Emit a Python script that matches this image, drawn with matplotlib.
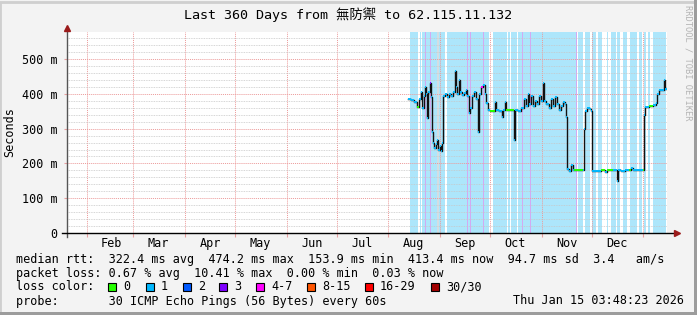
import numpy as np
import matplotlib.pyplot as plt
import matplotlib.dates as mdates
from matplotlib.ticker import MultipleLocator, FuncFormatter
from datetime import datetime, timedelta

# time axis: 360 days ending Thu Jan 15 03:48:23 2026
start = datetime(2025, 1, 20, 3, 48, 23)
span_days = 360

# median rtt (days since start, ms, loss colour index)
days = [204.6, 206.4, 208.2, 210.0, 211.2, 212.4, 213.0, 214.2, 214.8, 215.4,
        216.0, 216.6, 217.8, 218.4, 219.0, 219.6, 220.2, 221.4, 222.0, 222.6,
        223.8, 224.4, 225.0, 225.6, 226.8, 228.0, 229.2, 230.4, 231.6, 232.8,
        233.4, 234.0, 235.2, 235.8, 237.0, 238.2, 239.4, 240.0, 241.2, 241.8,
        243.0, 244.2, 245.4, 246.6, 247.2, 248.4, 249.6, 250.8, 251.4, 252.6,
        253.8, 255.6, 256.8, 257.4, 259.2, 261.0, 261.6, 262.6, 263.4, 265.8,
        268.2, 268.8, 270.6, 272.4, 274.2, 275.4, 276.6, 277.2, 278.4, 279.6,
        280.8, 282.0, 283.2, 284.4, 285.6, 286.2, 287.4, 289.2, 290.4, 291.6,
        292.8, 294.0, 295.2, 296.4, 297.6, 298.8, 299.4, 300.0, 301.2, 302.4,
        303.6, 304.2, 307.2, 309.6, 310.2, 310.8, 312.0, 313.8, 314.4, 315.0,
        317.4, 320.4, 322.8, 324.0, 327.6, 328.8, 330.0, 330.6, 332.4, 334.8,
        337.2, 338.4, 339.6, 342.0, 344.4, 345.6, 346.2, 346.8, 349.2, 351.6,
        353.4, 354.0, 355.2, 356.4, 357.6, 358.2, 358.8, 359.4]
median_ms = [385, 383, 378, 362, 385, 405, 360, 395, 420, 400,
             330, 405, 431, 390, 290, 260, 245, 255, 268, 240,
             250, 235, 260, 395, 400, 392, 400, 395, 405, 465,
             420, 400, 440, 405, 398, 402, 410, 395, 345, 360,
             395, 405, 385, 290, 400, 420, 425, 400, 375, 355,
             352, 352, 378, 355, 352, 335, 355, 378, 355, 355,
             268, 355, 352, 360, 385, 365, 400, 370, 395, 365,
             380, 370, 395, 380, 430, 380, 370, 360, 385, 365,
             390, 370, 355, 365, 378, 370, 333, 185, 178, 195,
             180, 182, 180, 182, 300, 350, 360, 358, 350, 178,
             178, 180, 175, 180, 182, 180, 150, 180, 178, 180,
             180, 188, 182, 180, 182, 180, 340, 362, 365, 368,
             375, 400, 410, 412, 412, 440, 415, 413]
loss_idx = [1, 1, 1, 0, 1, 1, 1, 1, 1, 1,
            1, 1, 3, 1, 1, 1, 1, 1, 1, 1,
            1, 1, 1, 1, 1, 1, 1, 1, 1, 1,
            1, 1, 1, 1, 1, 1, 1, 1, 1, 1,
            1, 1, 1, 1, 1, 4, 1, 1, 1, 1,
            0, 0, 1, 1, 1, 1, 1, 1, 0, 0,
            1, 1, 1, 1, 1, 1, 1, 1, 1, 1,
            1, 1, 1, 1, 1, 1, 1, 1, 1, 1,
            1, 1, 1, 1, 1, 1, 1, 1, 1, 1,
            1, 0, 0, 1, 1, 1, 1, 1, 1, 1,
            1, 0, 1, 0, 1, 1, 1, 1, 1, 1,
            0, 1, 1, 1, 1, 0, 1, 1, 0, 1,
            1, 1, 1, 1, 1, 1, 1, 1]

loss_labels = ['0', '1', '2', '3', '4-7', '8-15', '16-29', '30/30']
loss_colors = ['#26ff00', '#00b8ff', '#0059ff', '#7e00ff', '#ff00ff',
               '#ff5500', '#ff0000', '#a10000']

# background bands (days since start)
data_span = (205.8, 359.4)
white_gaps = [(210.8, 211.6), (212.4, 213.0), (226.8, 227.8), (253.4, 255.8),
              (263.8, 264.4), (265.8, 266.4), (269.8, 270.4), (305.4, 306.6),
              (307.5, 308.1), (309.6, 310.5), (313.8, 315.0), (317.4, 318.6),
              (321.0, 324.0), (324.6, 326.4), (329.1, 330.0), (331.8, 333.6),
              (336.0, 337.8), (342.0, 343.2), (345.0, 345.9), (347.4, 348.3),
              (349.8, 351.6)]
gray_gaps = [(222.2, 223.4)]
lavender_days = [214.8, 217.8, 240.0, 241.8, 249.6, 273.0, 277.8, 305.1]

row_rtt = 'median rtt:  322.4 ms avg  474.2 ms max  153.9 ms min  413.4 ms now  94.7 ms sd  3.4   am/s'
row_loss = 'packet loss: 0.67 % avg  10.41 % max  0.00 % min  0.03 % now'
row_probe = 'probe:       30 ICMP Echo Pings (56 Bytes) every 60s'
stamp = 'Thu Jan 15 03:48:23 2026'

W, H = 697, 315
mono = ['DejaVu Sans Mono', 'Noto Sans CJK TC']
plt.rcParams['font.family'] = mono

fig = plt.figure(figsize=(W / 100, H / 100), dpi=100, facecolor='#f3f3f3')


def px(x, y):
    return x / W, 1 - y / H


ax = fig.add_axes([67 / W, (H - 233) / H, 600 / W, 201 / H])
ax.set_facecolor('white')

d = lambda v: start + timedelta(days=v)

ax.axvspan(d(data_span[0]), d(data_span[1]), color='#ade6fb', lw=0)
for a, b in white_gaps:
    ax.axvspan(d(a), d(b), color='white', lw=0)
for a, b in gray_gaps:
    ax.axvspan(d(a), d(b), color='#d4dde2', lw=0)
for v in lavender_days:
    ax.axvspan(d(v), d(v + 0.6), color='#d2aaf2', lw=0)

t = [d(v) for v in days]
ax.step(t, median_ms, where='post', color='#111111', lw=1.0, zorder=3)
seg_end = t[1:] + [d(days[-1] + 0.6)]
ax.hlines(median_ms, t, seg_end, colors=[loss_colors[i] for i in loss_idx],
          lw=1.4, zorder=4)

ax.set_xlim(start, start + timedelta(days=span_days))
ax.set_ylim(0, 578)

ax.xaxis.set_major_locator(mdates.MonthLocator(bymonthday=16))
ax.xaxis.set_major_formatter(mdates.DateFormatter('%b'))
ax.xaxis.set_minor_locator(mdates.MonthLocator())
ax.tick_params(axis='x', which='major', length=0, labelsize=8.5, pad=3)
ax.tick_params(axis='x', which='minor', length=3, color='#e8a0a0', width=0.8)

ax.yaxis.set_major_locator(MultipleLocator(100))
ax.yaxis.set_minor_locator(MultipleLocator(20))
ax.yaxis.set_major_formatter(FuncFormatter(lambda v, p: '0' if v == 0 else f'{v:g} m'))
ax.tick_params(axis='y', which='major', length=2, color='#e8a0a0', labelsize=8.5, pad=5)
ax.tick_params(axis='y', which='minor', length=0)

ax.set_axisbelow(False)
ax.grid(which='minor', axis='y', color='#c8c8c8', ls=(0, (1, 1)), lw=0.6)
ax.grid(which='major', axis='y', color='#ec9a9a', ls=(0, (1, 1)), lw=0.7)
ax.grid(which='minor', axis='x', color='#ec9a9a', ls=(0, (1, 1)), lw=0.7)

for s in ax.spines.values():
    s.set_visible(False)
ax.plot([0, 0], [-0.02, 1.01], color='#555555', lw=1, transform=ax.transAxes, clip_on=False, zorder=5)
ax.plot([-0.008, 1.013], [0, 0], color='black', lw=1, transform=ax.transAxes, clip_on=False, zorder=5)
ax.plot([0], [1.02], marker='^', color='#9b1b1b', markersize=4.5, transform=ax.transAxes, clip_on=False, zorder=6)
ax.plot([1.016], [0], marker='>', color='#9b1b1b', markersize=4.5, transform=ax.transAxes, clip_on=False, zorder=6)

fig.text(*px(10, 132), 'Seconds', rotation=90, ha='center', va='center', fontsize=8.5)

fig.text(*px(348.5, 15), 'Last 360 Days from 無防禦 to 62.115.11.132',
         ha='center', va='center', fontsize=9.6)
fig.text(*px(688, 5), 'RRDTOOL / TOBI OETIKER', rotation=270, ha='center',
         va='top', fontsize=6.3, color='#b4b4b4')

fs = 8.5
r1, r2, r3, r4 = 260, 273.5, 287, 301
fig.text(*px(16, r1), row_rtt, va='center', fontsize=fs)
fig.text(*px(16, r2), row_loss, va='center', fontsize=fs)

fig.text(*px(16, r3), 'loss color:', va='center', fontsize=fs)
sq_x = [108, 146, 183, 219, 256, 307, 365, 431]
for x, lab, c in zip(sq_x, loss_labels, loss_colors):
    fig.patches.append(plt.Rectangle(px(x, r3 + 4), 8 / W, 8 / H, transform=fig.transFigure,
                                     facecolor=c, edgecolor='black', lw=0.8))
    fig.text(*px(x + 15, r3), lab, va='center', fontsize=fs)

fig.text(*px(16, r4), row_probe, va='center', fontsize=fs)
fig.text(*px(513, r4), stamp, va='center', fontsize=fs)

# frame
fig.patches.append(plt.Rectangle((0, 0), 1, 1 - 2 / H, transform=fig.transFigure, fill=False,
                                 edgecolor='#cfcfcf', lw=2))
fig.patches.append(plt.Rectangle((W - 3) / W * np.array([1, 0]), 3 / W, 1, transform=fig.transFigure,
                                 facecolor='#9c9c9c', lw=0))
fig.patches.append(plt.Rectangle((0, 0), 1, 3 / H, transform=fig.transFigure,
                                 facecolor='#9c9c9c', lw=0))

fig.savefig('out.png', dpi=100, facecolor=fig.get_facecolor())
